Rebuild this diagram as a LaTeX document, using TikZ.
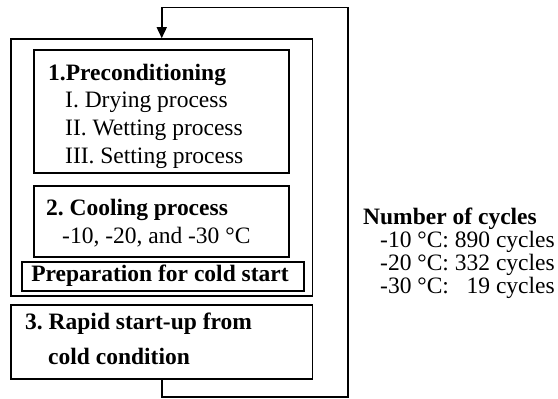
\documentclass[tikz,border=0pt]{standalone}
\usepackage{fontspec}
\setmainfont{Liberation Serif}
\usetikzlibrary{arrows.meta}
\frenchspacing
\tikzset{
  box/.style={draw, line width=1.6pt, inner sep=0pt},
  txt/.style={anchor=base west, inner sep=0pt, font=\fontsize{23.5}{28}\selectfont\frenchspacing},
  btxt/.style={txt, font=\fontsize{23.5}{28}\selectfont\bfseries\frenchspacing},
  flow/.style={line width=1.6pt, -{Triangle[length=11pt,width=10pt]}}
}
\begin{document}
\begin{tikzpicture}[x=1pt,y=-1pt]
\useasboundingbox (0,0) rectangle (558,399);
% boxes
\node[box, minimum width=301.5pt, minimum height=257pt] (outer) at (161.75,167.5) {};
\node[box, minimum width=255pt, minimum height=123pt] (pre) at (161.5,111.5) {};
\node[box, minimum width=255pt, minimum height=71pt] (cool) at (161.5,221.5) {};
\node[box, minimum width=282pt, minimum height=29pt] (prep) at (163,276.5) {};
\node[box, minimum width=301.5pt, minimum height=74pt] (rapid) at (161.75,342) {};
% texts
\node[btxt] (t1) at (48,80) {1.Preconditioning};
\node[txt] (t2) at (65,107) {I. Drying process};
\node[txt] (t3) at (65,135) {II. Wetting process};
\node[txt] (t4) at (65,163) {III. Setting process};
\node[btxt] (c1) at (46,215) {2. Cooling process};
\node[txt] (c2) at (62,243) {-10, -20, and -30 °C};
\node[btxt, anchor=base] (p1) at (160,281) {Preparation for cold start};
\node[btxt] (r1) at (25,329) {3. Rapid start-up from};
\node[btxt] (r2) at (48,364) {cold condition};
\node[btxt] (n1) at (363,224) {Number of cycles};
\node[txt] (n2) at (380,247) {-10 °C: 890 cycles};
\node[txt] (n3) at (380,270) {-20 °C: 332 cycles};
\node[txt] (n4) at (380,293) {-30 °C: \phantom{8}19 cycles};
% feedback loop
\coordinate (br) at (348,397);
\coordinate (tr) at (348,7.5);
\draw[flow] (rapid.south) |- (br) -- (tr) -| (outer.north);
\end{tikzpicture}
\end{document}
